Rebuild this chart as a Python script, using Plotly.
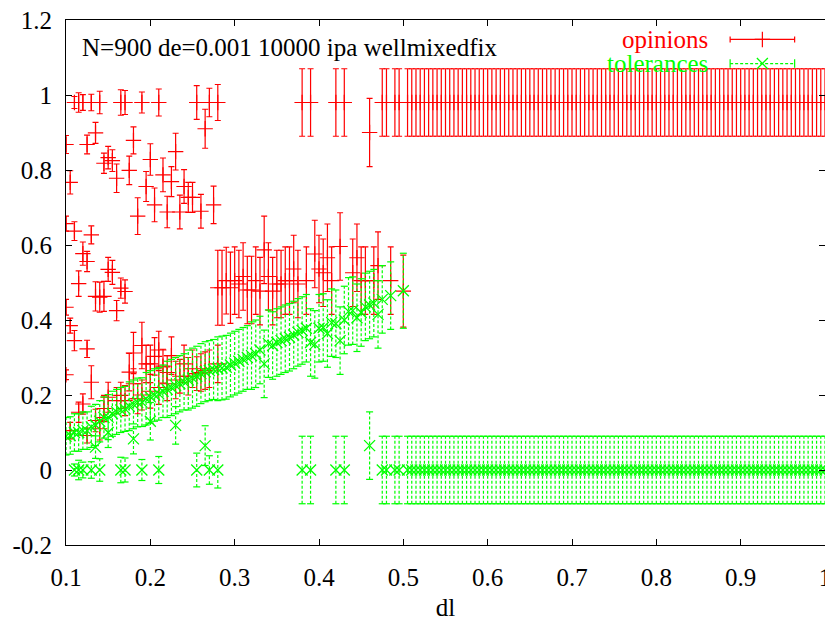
import numpy as np
import plotly.graph_objects as go

# ---------------- data ----------------
# opinions (cluster means) for dl < 0.505: x, y, error
op_x = [0.11, 0.115, 0.12, 0.13, 0.14, 0.165, 0.17, 0.19, 0.21, 0.255, 0.27, 0.28,
        0.38, 0.39, 0.42, 0.43, 0.46, 0.475, 0.48, 0.49, 0.495, 0.265,
        0.1, 0.125, 0.135, 0.18, 0.145, 0.15, 0.155, 0.16, 0.175, 0.105, 0.2, 0.215,
        0.23, 0.225, 0.195, 0.205, 0.24, 0.185, 0.22, 0.235, 0.245, 0.25, 0.26, 0.275,
        0.1, 0.11, 0.13, 0.12, 0.125, 0.115, 0.15, 0.155, 0.135, 0.14, 0.145, 0.165,
        0.17, 0.16, 0.1, 0.105,
        0.1, 0.11, 0.125, 0.13, 0.12, 0.115, 0.105, 0.125, 0.135, 0.145, 0.15, 0.16,
        0.165, 0.17, 0.175, 0.18, 0.19, 0.195, 0.2, 0.205, 0.21, 0.215, 0.22, 0.225,
        0.235, 0.24, 0.185, 0.255, 0.265, 0.28, 0.18, 0.14, 0.19, 0.2, 0.21, 0.22,
        0.23, 0.245, 0.25, 0.26, 0.27,
        0.28, 0.285, 0.29, 0.295, 0.3, 0.305, 0.31, 0.315, 0.32, 0.325, 0.33, 0.335,
        0.34, 0.345, 0.35, 0.355, 0.36, 0.365, 0.37, 0.375, 0.385, 0.395, 0.4, 0.405,
        0.41, 0.415, 0.425, 0.44, 0.445, 0.45, 0.455, 0.465, 0.47, 0.485, 0.5]
op_y = [0.98, 0.98, 0.98, 0.98, 0.98, 0.98, 0.98, 0.98, 0.98, 0.98, 0.98, 0.98,
        0.98, 0.98, 0.98, 0.98, 0.90, 0.98, 0.98, 0.98, 0.98, 0.91,
        0.868, 0.868, 0.899, 0.879, 0.818, 0.833, 0.825, 0.778, 0.799, 0.767, 0.828, 0.787,
        0.849, 0.769, 0.756, 0.707, 0.756, 0.677, 0.688, 0.688, 0.727, 0.727, 0.69, 0.707,
        0.657, 0.637, 0.627, 0.577, 0.556, 0.497, 0.535, 0.527, 0.463, 0.461, 0.463, 0.485,
        0.476, 0.425, 0.434, 0.385,
        0.254, 0.345, 0.323, 0.234, 0.176, 0.154, 0.105, 0.092, 0.132, 0.164, 0.194, 0.185,
        0.199, 0.185, 0.261, 0.312, 0.332, 0.283, 0.283, 0.303, 0.32, 0.277, 0.26, 0.305,
        0.25, 0.283, 0.19, 0.257, 0.265, 0.283, 0.23, 0.11, 0.2, 0.21, 0.22, 0.23,
        0.24, 0.25, 0.27, 0.26, 0.27,
        0.486, 0.486, 0.505, 0.486, 0.505, 0.496, 0.516, 0.48, 0.48, 0.505, 0.477, 0.587,
        0.516, 0.477, 0.496, 0.496, 0.505, 0.505, 0.536, 0.496, 0.505, 0.576, 0.536, 0.526,
        0.566, 0.505, 0.596, 0.526, 0.566, 0.505, 0.505, 0.505, 0.545, 0.505, 0.477]
op_err = [0.016, 0.026, 0.021, 0.022, 0.03, 0.034, 0.032, 0.028, 0.036, 0.045, 0.038, 0.048,
          0.09, 0.09, 0.09, 0.09, 0.091, 0.09, 0.09, 0.09, 0.09, 0.052,
          0.024, 0.025, 0.028, 0.036, 0.027, 0.03, 0.029, 0.038, 0.038, 0.031, 0.042, 0.045,
          0.049, 0.04, 0.04, 0.045, 0.045, 0.049, 0.042, 0.045, 0.04, 0.04, 0.045, 0.05,
          0.02, 0.025, 0.024, 0.031, 0.027, 0.034, 0.032, 0.032, 0.039, 0.04, 0.04, 0.027,
          0.031, 0.027, 0.021, 0.02,
          0.013, 0.027, 0.023, 0.044, 0.027, 0.027, 0.022, 0.02, 0.03, 0.035, 0.04, 0.035,
          0.035, 0.04, 0.05, 0.055, 0.062, 0.05, 0.05, 0.05, 0.05, 0.045, 0.045, 0.05,
          0.045, 0.05, 0.04, 0.045, 0.05, 0.05, 0.04, 0.03, 0.04, 0.045, 0.045, 0.045,
          0.05, 0.05, 0.05, 0.05, 0.05,
          0.1, 0.1, 0.089, 0.095, 0.09, 0.09, 0.09, 0.09, 0.09, 0.09, 0.09, 0.09,
          0.09, 0.09, 0.09, 0.09, 0.09, 0.09, 0.09, 0.09, 0.09, 0.09, 0.09, 0.09,
          0.09, 0.09, 0.09, 0.09, 0.09, 0.09, 0.09, 0.09, 0.09, 0.09, 0.096]

# tolerances for dl < 0.505: x, y, error
tol_x = [0.11, 0.115, 0.12, 0.13, 0.14, 0.165, 0.17, 0.19, 0.21, 0.255, 0.27, 0.28, 0.265,
         0.38, 0.39, 0.42, 0.43, 0.46, 0.475, 0.48, 0.49, 0.495,
         0.1, 0.105, 0.11, 0.115, 0.12, 0.125, 0.13, 0.135, 0.14, 0.145, 0.15, 0.155,
         0.16, 0.165, 0.17, 0.175, 0.18, 0.185, 0.19, 0.195, 0.2, 0.205, 0.21, 0.215,
         0.22, 0.225, 0.23, 0.235, 0.24, 0.245, 0.25, 0.255, 0.26, 0.27, 0.28, 0.29,
         0.3, 0.31, 0.32, 0.33, 0.34, 0.345, 0.355, 0.36, 0.365, 0.375, 0.385, 0.395,
         0.4, 0.405, 0.41, 0.415, 0.425, 0.435, 0.44, 0.445, 0.455, 0.465, 0.47, 0.485, 0.5,
         0.135, 0.18, 0.2, 0.23, 0.335, 0.15,
         0.265, 0.275, 0.285, 0.295, 0.305, 0.315, 0.325, 0.35, 0.37, 0.38, 0.39, 0.42, 0.43, 0.45, 0.46, 0.475]
tol_y = [0.0, 0.0, 0.0, 0.0, 0.0, 0.0, 0.0, 0.0, 0.0, 0.0, 0.0, 0.0, 0.065,
         0.0, 0.0, 0.0, 0.0, 0.065, 0.0, 0.0, 0.0, 0.0,
         0.09, 0.092, 0.1, 0.1, 0.105, 0.105, 0.115, 0.12, 0.13, 0.14, 0.141, 0.15,
         0.155, 0.16, 0.163, 0.17, 0.175, 0.18, 0.181, 0.19, 0.195, 0.2, 0.203, 0.21,
         0.215, 0.22, 0.225, 0.23, 0.235, 0.24, 0.245, 0.25, 0.257, 0.265, 0.27, 0.274,
         0.285, 0.295, 0.305, 0.32, 0.337, 0.332, 0.345, 0.35, 0.354, 0.367, 0.378, 0.335,
         0.378, 0.38, 0.364, 0.393, 0.345, 0.423, 0.425, 0.406, 0.435, 0.445, 0.415, 0.465, 0.478,
         0.061, 0.083, 0.13, 0.119, 0.283, 0.1,
         0.262, 0.268, 0.272, 0.28, 0.29, 0.3, 0.31, 0.34, 0.36, 0.372, 0.34, 0.39, 0.4, 0.42, 0.44, 0.455]
tol_err = [0.016, 0.026, 0.021, 0.022, 0.03, 0.034, 0.032, 0.028, 0.036, 0.045, 0.038, 0.048, 0.053,
           0.09, 0.09, 0.09, 0.09, 0.09, 0.09, 0.09, 0.09, 0.09,
           0.05, 0.05, 0.05, 0.05, 0.05, 0.05, 0.055, 0.055, 0.055, 0.055, 0.06, 0.06,
           0.06, 0.06, 0.06, 0.065, 0.065, 0.065, 0.065, 0.07, 0.07, 0.07, 0.07, 0.07,
           0.075, 0.075, 0.075, 0.075, 0.075, 0.08, 0.08, 0.08, 0.08, 0.08, 0.085, 0.085,
           0.085, 0.085, 0.09, 0.09, 0.09, 0.09, 0.09, 0.09, 0.09, 0.09, 0.09, 0.09,
           0.09, 0.09, 0.09, 0.09, 0.09, 0.09, 0.09, 0.09, 0.09, 0.09, 0.09, 0.09, 0.1,
           0.03, 0.04, 0.05, 0.05, 0.09, 0.04,
           0.08, 0.08, 0.085, 0.085, 0.085, 0.085, 0.09, 0.09, 0.09, 0.09, 0.09, 0.09, 0.09, 0.09, 0.09, 0.09]

# consensus plateau: dl = 0.505 ... 1.0 (step 0.005), every point read as the same value
plateau_dl = [round(v, 3) for v in np.arange(0.505, 1.0001, 0.005)]
plateau_opinion, plateau_opinion_err = 0.98, 0.09
plateau_tolerance, plateau_tolerance_err = 0.0, 0.09

x_ticks = [0.1, 0.2, 0.3, 0.4, 0.5, 0.6, 0.7, 0.8, 0.9, 1.0]
x_tick_text = ["0.1", "0.2", "0.3", "0.4", "0.5", "0.6", "0.7", "0.8", "0.9", "1"]
y_ticks = [-0.2, 0.0, 0.2, 0.4, 0.6, 0.8, 1.0, 1.2]
y_tick_text = ["-0.2", "0", "0.2", "0.4", "0.6", "0.8", "1", "1.2"]

# ---------------- assemble ----------------
ox = op_x + plateau_dl
oy = op_y + [plateau_opinion] * len(plateau_dl)
oe = op_err + [plateau_opinion_err] * len(plateau_dl)
tx = tol_x + plateau_dl
ty = tol_y + [plateau_tolerance] * len(plateau_dl)
te = tol_err + [plateau_tolerance_err] * len(plateau_dl)

RED = "#ff0000"
GREEN = "#00ff00"
FONT = "'Liberation Serif', 'Times New Roman', Times, serif"
FS = 25

fig = go.Figure()

# opinions: solid error bars with caps and "+" markers
fig.add_trace(go.Scatter(
    x=ox, y=oy, mode="markers",
    marker=dict(symbol="cross-thin", size=11, color=RED, line=dict(color=RED, width=1.2)),
    error_y=dict(type="data", array=oe, visible=True, color=RED, thickness=1.2, width=3),
    showlegend=False, hoverinfo="skip"))

# tolerances: dashed error bars built from the data
seg_x, seg_y = [], []
for xv, yv, ev in zip(tx, ty, te):
    seg_x += [xv, xv, None]
    seg_y += [yv - ev, yv + ev, None]
fig.add_trace(go.Scatter(
    x=seg_x, y=seg_y, mode="lines",
    line=dict(color=GREEN, width=1.2, dash="3px,2px"),
    showlegend=False, hoverinfo="skip"))
fig.add_trace(go.Scatter(
    x=tx + tx, y=[a - b for a, b in zip(ty, te)] + [a + b for a, b in zip(ty, te)],
    mode="markers",
    marker=dict(symbol="line-ew", size=5, color=GREEN, line=dict(color=GREEN, width=1.2)),
    showlegend=False, hoverinfo="skip"))
fig.add_trace(go.Scatter(
    x=tx, y=ty, mode="markers",
    marker=dict(symbol="x-thin", size=11, color=GREEN, line=dict(color=GREEN, width=1.3)),
    showlegend=False, hoverinfo="skip"))

# ---------------- key (gnuplot style: text left, sample right) ----------------
key_x0, key_x1 = 0.875, 0.960
key_y_op, key_y_tol = 0.963, 0.917
key_mid = (key_x0 + key_x1) / 2
fig.add_trace(go.Scatter(
    x=[key_mid], y=[key_y_op], xaxis="x2", yaxis="y2", mode="markers",
    marker=dict(symbol="cross-thin", size=11, color=RED, line=dict(color=RED, width=1.2)),
    error_x=dict(type="constant", value=(key_x1 - key_x0) / 2, color=RED, thickness=1.2, width=3),
    showlegend=False, hoverinfo="skip"))
fig.add_trace(go.Scatter(
    x=[key_x0, key_x1], y=[key_y_tol, key_y_tol], xaxis="x2", yaxis="y2", mode="lines+markers",
    line=dict(color=GREEN, width=1.2, dash="3px,2px"),
    marker=dict(symbol="line-ns", size=6, color=GREEN, line=dict(color=GREEN, width=1.2)),
    showlegend=False, hoverinfo="skip"))
fig.add_trace(go.Scatter(
    x=[key_mid], y=[key_y_tol], xaxis="x2", yaxis="y2", mode="markers",
    marker=dict(symbol="x-thin", size=11, color=GREEN, line=dict(color=GREEN, width=1.3)),
    showlegend=False, hoverinfo="skip"))

fig.add_annotation(x=0.8486, y=key_y_op, xref="paper", yref="paper", text="opinions",
                   showarrow=False, xanchor="right", yanchor="middle",
                   font=dict(family=FONT, size=FS, color=RED))
fig.add_annotation(x=0.8486, y=key_y_tol, xref="paper", yref="paper", text="tolerances",
                   showarrow=False, xanchor="right", yanchor="middle",
                   font=dict(family=FONT, size=FS, color=GREEN))
fig.add_annotation(x=0.019, y=0.948, xref="paper", yref="paper",
                   text="N=900 de=0.001 10000 ipa wellmixedfix",
                   showarrow=False, xanchor="left", yanchor="middle",
                   font=dict(family=FONT, size=FS, color="black"))

axis_common = dict(showline=True, linecolor="black", linewidth=1, mirror="ticks",
                   ticks="inside", ticklen=6, tickcolor="black", showgrid=False,
                   zeroline=False, automargin=False, ticklabeloverflow="allow",
                   tickfont=dict(family=FONT, size=FS, color="black"))

fig.update_layout(
    width=833, height=621,
    margin=dict(l=58, r=16, t=12, b=84),
    paper_bgcolor="white", plot_bgcolor="white",
    font=dict(family=FONT, size=FS, color="black"),
    xaxis=dict(range=[0.1, 1.0], tickvals=x_ticks, ticktext=x_tick_text,
               ticklabelstandoff=10,
               title=dict(text="dl", font=dict(family=FONT, size=FS), standoff=8),
               **axis_common),
    yaxis=dict(range=[-0.2, 1.2], tickvals=y_ticks, ticktext=y_tick_text,
               ticklabelstandoff=8, **axis_common),
    xaxis2=dict(range=[0, 1], overlaying="x", anchor="y2", visible=False),
    yaxis2=dict(range=[0, 1], overlaying="y", anchor="x2", visible=False),
    showlegend=False,
)

fig.write_html("out.html")
